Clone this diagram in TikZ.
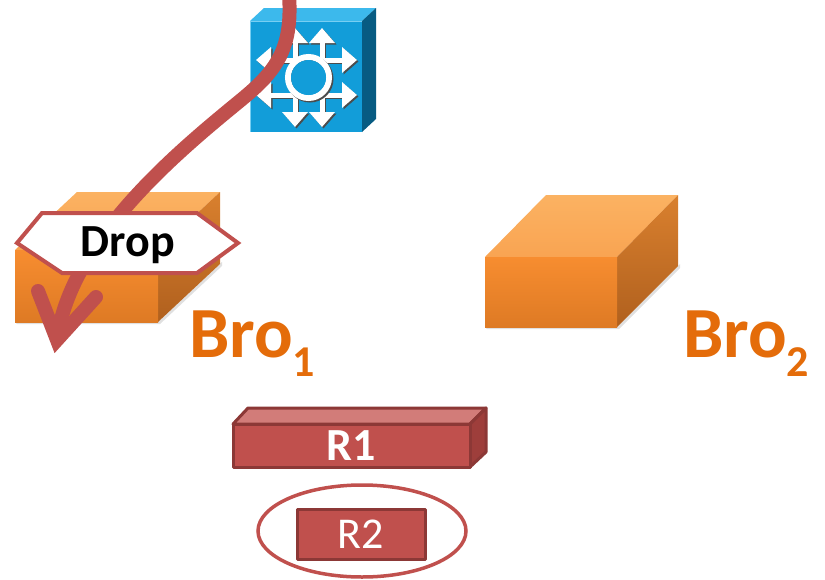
\documentclass[tikz,border=0pt]{standalone}
\usepackage{fontspec}
\setmainfont{Carlito}
\usetikzlibrary{arrows.meta}

\definecolor{flowred}{HTML}{C0504D}
\definecolor{flowdark}{HTML}{8C3836}
\definecolor{flowtop}{HTML}{D27C79}
\definecolor{flowside}{HTML}{9E3E3B}
\definecolor{broorange}{HTML}{E46C0A}
\definecolor{boxtopA}{HTML}{FBB262}
\definecolor{boxtopB}{HTML}{F9A452}
\definecolor{boxfrontA}{HTML}{F78D30}
\definecolor{boxfrontB}{HTML}{DE7A24}
\definecolor{boxsideA}{HTML}{D9802E}
\definecolor{boxsideB}{HTML}{B0601E}
\definecolor{swfront}{HTML}{129DD9}
\definecolor{swtop}{HTML}{3CB9EC}
\definecolor{swside}{HTML}{075B82}

\tikzset{
  brolabel/.style={text=broorange, font=\fontsize{72}{74}\selectfont\bfseries, anchor=base west, inner sep=0pt},
  swarrow/.style={draw=white, line width=5pt,
    {Triangle[length=15pt,width=25pt]}-{Triangle[length=15pt,width=25pt]}},
  swshadow/.style={draw=black!70, line width=5pt,
    {Triangle[length=15pt,width=25pt]}-{Triangle[length=15pt,width=25pt]}},
  flowpath/.style={draw=flowred, line width=14pt},
  flowhead/.style={draw=flowred, line width=14pt, line cap=round, line join=miter},
  dropbox/.style={draw=flowred, line width=4pt, fill=white, line join=miter},
  barface/.style={draw=flowdark, line width=3pt, line join=round},
  boxshadow/.style={fill=black, opacity=0.12},
}

\begin{document}
\begin{tikzpicture}[x=1pt,y=-1pt]
\useasboundingbox (0,0) rectangle (825,579);
\clip (0,0) rectangle (825,579);

% ---------- layer-3 switch ----------
\fill[swtop] (250,21) -- (264,8) -- (376,8) -- (362,21) -- cycle;
\fill[swside] (362,21) -- (376,8) -- (376,119) -- (362,132) -- cycle;
\fill[swfront] (250,21) rectangle (362,132);
\draw[swtop!70!white, line width=1pt] (250.5,131.5) -- (250.5,21.5) -- (361.5,21.5);
\begin{scope}[shift={(1.5,1.5)}]
  \draw[swshadow] (295,28) -- (295,127);
  \draw[swshadow] (322,28) -- (322,127);
  \draw[swshadow] (256,60) -- (357,60);
  \draw[swshadow] (256,95) -- (357,95);
\end{scope}
\draw[swarrow] (295,28) -- (295,127);
\draw[swarrow] (322,28) -- (322,127);
\draw[swarrow] (256,60) -- (357,60);
\draw[swarrow] (256,95) -- (357,95);
\fill[swfront] (308.5,77.5) circle (20);
\draw[black!70, line width=6pt] (310,79) circle (20.5);
\draw[white, line width=6pt] (308.5,77.5) circle (20.5);
\fill[swfront] (308.5,77.5) circle (17.5);
\coordinate (swtopin) at (289,-5);

% ---------- Bro1 box ----------
\fill[boxshadow] (17,324) -- (160,324) -- (222,266) -- (222,262) -- (158,322) -- (15,322) -- cycle;
\shade[top color=boxtopA, bottom color=boxtopB] (15,250) -- (77,192) -- (220,192) -- (158,250) -- cycle;
\shade[top color=boxsideA, bottom color=boxsideB] (158,250) -- (220,192) -- (220,264) -- (158,322) -- cycle;
\shade[top color=boxfrontA, bottom color=boxfrontB] (15,250) rectangle (158,322);
\node[brolabel] (bro1) at (189,357) {Bro\raisebox{-19pt}{\fontsize{44}{44}\selectfont 1}};

% ---------- Bro2 box ----------
\fill[boxshadow] (487,329) -- (619,329) -- (680,268) -- (680,264) -- (617,327) -- (485,327) -- cycle;
\shade[top color=boxtopA, bottom color=boxtopB] (485,257) -- (546,195) -- (678,195) -- (617,257) -- cycle;
\shade[top color=boxsideA, bottom color=boxsideB] (617,257) -- (678,195) -- (678,266) -- (617,327) -- cycle;
\shade[top color=boxfrontA, bottom color=boxfrontB] (485,257) rectangle (617,327);
\node[brolabel] (bro2) at (683,357) {Bro\raisebox{-19pt}{\fontsize{44}{44}\selectfont 2}};

% ---------- flow from the switch, dropped at Bro1 ----------
\coordinate (dropvertex) at (57,340);
\coordinate (barbL) at (38,291);
\coordinate (barbR) at (96,297);
\draw[flowpath] (swtopin) .. controls (293,50) and (275,72) .. (241,100)
  .. controls (180,150) and (70,240) .. (dropvertex);
\draw[flowhead] (barbL) -- (dropvertex) -- (barbR);

% ---------- Drop tag ----------
\draw[dropbox] (17,243) -- (42,213) -- (197,213) -- (238,243) -- (197,273) -- (62,273) -- cycle;
\node[font=\fontsize{46}{46}\selectfont\bfseries, inner sep=0pt] (drop) at (128,245) {Drop};

% ---------- rule R1 ----------
\draw[barface, fill=flowtop] (233,424) -- (248,408) -- (486,408) -- (470,424) -- cycle;
\draw[barface, fill=flowside] (470,424) -- (486,408) -- (486,452) -- (470,467) -- cycle;
\draw[barface, fill=flowred] (233,424) rectangle (470,467);
\node[text=white, font=\fontsize{46}{46}\selectfont\bfseries] (r1) at (351.5,446) {R1};

% ---------- rule R2, circled ----------
\draw[barface, fill=flowred] (297,509) rectangle (425,559);
\node[text=white, font=\fontsize{44}{44}\selectfont] (r2) at (361,534) {R2};
\draw[flowred, line width=3.5pt] (362,531) ellipse [x radius=104, y radius=46];
\end{tikzpicture}
\end{document}
